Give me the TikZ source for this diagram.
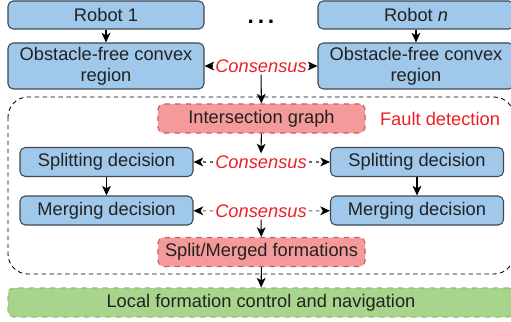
\documentclass[tikz,border=0pt]{standalone}
\usepackage{fontspec}
\setmainfont{Liberation Sans}
\usetikzlibrary{positioning, arrows.meta}
\definecolor{BoxBlue}{RGB}{160,200,234}
\definecolor{BoxEdge}{RGB}{62,72,84}
\definecolor{FaultPink}{RGB}{244,154,154}
\definecolor{FaultEdge}{RGB}{205,92,92}
\definecolor{CtrlGreen}{RGB}{168,212,140}
\definecolor{CtrlEdge}{RGB}{140,192,110}
\definecolor{TxtDark}{RGB}{34,34,34}
\definecolor{ConsRed}{RGB}{238,30,38}

\begin{document}
\begin{tikzpicture}[
          font=\fontsize{10.4}{12}\selectfont,
          bx/.style={rectangle, rounded corners=3pt, minimum width=3.92cm,
                     minimum height=0.56cm, align=center, text=TxtDark,
                     fill=BoxBlue, draw=BoxEdge, line width=0.6pt, inner sep=1pt},
          flt/.style={bx, fill=FaultPink, draw=FaultEdge, dashed,
                      minimum width=4.14cm, minimum height=0.58cm},
          cons/.style={text=ConsRed, font=\fontsize{10.4}{12}\selectfont\itshape,
                       inner sep=1pt},
          arr/.style={-{Stealth[length=5.5pt, width=5pt, inset=1.5pt]}, draw=black, line width=0.6pt},
          darr/.style={-{Stealth[length=5.5pt, width=5pt, inset=1.5pt, color=black]},
                       draw=black!60, dash pattern=on 2pt off 2pt, line width=0.6pt}
        ]
        \useasboundingbox (0,0) rectangle (10.22,-6.44);

        \node[bx]  (rob1) at (2.12,-0.30) {Robot 1};
        \node[bx]  (robn) at (8.32,-0.30) {Robot \textit{n}};
        \node[font=\fontsize{13}{14}\selectfont\bfseries, inner sep=0pt]
              (dots) at (5.22,-0.44) {.\,.\,.};

        \node[bx, minimum height=0.92cm] (cvx1) at (2.12,-1.32) {Obstacle-free convex\\region};
        \node[bx, minimum height=0.92cm] (cvxn) at (8.32,-1.32) {Obstacle-free convex\\region};
        \node[cons] (cons1) at (5.22,-1.32) {Consensus};

        % fault detection block
        \draw[dash pattern=on 2.5pt off 2pt, line width=0.5pt, rounded corners=0.4cm]
              (0.16,-1.94) rectangle (10.28,-5.48);
        \node[flt] (inter) at (5.23,-2.37) {Intersection graph};
        \node[text=ConsRed] (fault) at (8.80,-2.38) {Fault detection};

        \node[bx, minimum width=3.46cm, minimum height=0.58cm] (split1) at (2.13,-3.24) {Splitting decision};
        \node[bx, minimum width=3.46cm, minimum height=0.58cm] (splitn) at (8.34,-3.24) {Splitting decision};
        \node[cons] (cons2) at (5.22,-3.24) {Consensus};

        \node[bx, minimum width=3.46cm, minimum height=0.58cm] (merge1) at (2.13,-4.21) {Merging decision};
        \node[bx, minimum width=3.46cm, minimum height=0.58cm] (mergen) at (8.34,-4.21) {Merging decision};
        \node[cons] (cons3) at (5.22,-4.22) {Consensus};

        \node[flt] (sm) at (5.23,-5.04) {Split/Merged formations};

        \node[flt, fill=CtrlGreen, draw=CtrlEdge, minimum width=10.12cm]
              (local) at (5.22,-6.05) {Local formation control and navigation};

        \draw[arr]  (rob1)   -- (cvx1);
        \draw[arr]  (robn)   -- (cvxn);
        \draw[arr]  (cons1)  -- (cvx1);
        \draw[arr]  (cons1)  -- (cvxn);
        \draw[arr]  (cons1)  -- (inter);
        \draw[arr]  (inter)  -- (cons2);
        \draw[darr] (cons2)  -- (split1);
        \draw[darr] (cons2)  -- (splitn);
        \draw[arr]  (split1) -- (merge1);
        \draw[arr]  (splitn) -- (mergen);
        \draw[darr] (cons3)  -- (merge1);
        \draw[darr] (cons3)  -- (mergen);
        \draw[arr]  (cons3)  -- (sm);
        \draw[arr]  (sm)     -- (local);
      \end{tikzpicture}
\end{document}
